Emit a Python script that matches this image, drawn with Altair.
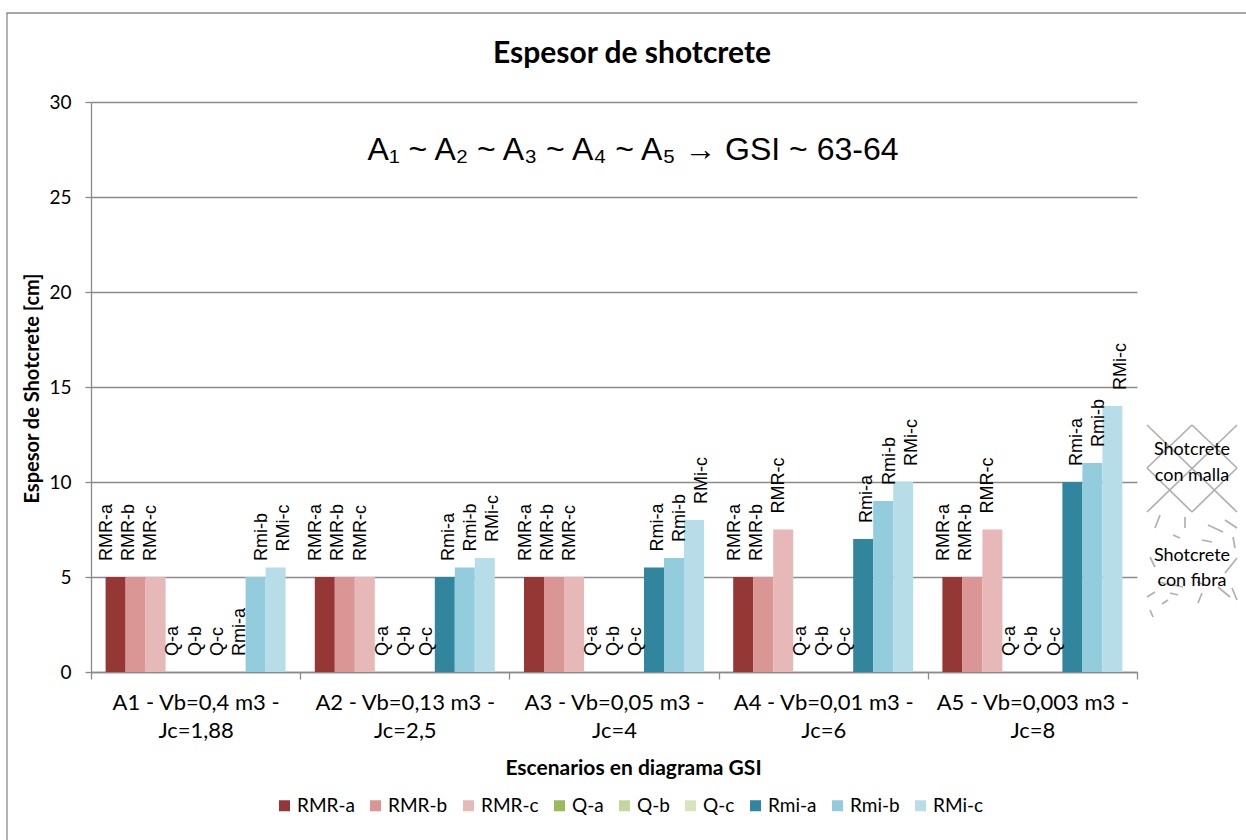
import altair as alt
import pandas as pd

# Scenario categories (x axis) and series (bars inside each scenario)
groups = [
    "A1 - Vb=0,4 m3 - Jc=1,88",
    "A2 - Vb=0,13 m3 - Jc=2,5",
    "A3 - Vb=0,05 m3 - Jc=4",
    "A4 - Vb=0,01 m3 - Jc=6",
    "A5 - Vb=0,003 m3 - Jc=8",
]
series = ["RMR-a", "RMR-b", "RMR-c", "Q-a", "Q-b", "Q-c", "Rmi-a", "Rmi-b", "RMi-c"]

# Shotcrete thickness [cm] per series, one value per scenario
rmr_a = [5, 5, 5, 5, 5]
rmr_b = [5, 5, 5, 5, 5]
rmr_c = [5, 5, 5, 7.5, 7.5]
q_a = [0, 0, 0, 0, 0]
q_b = [0, 0, 0, 0, 0]
q_c = [0, 0, 0, 0, 0]
rmi_a = [0, 5, 5.5, 7, 10]
rmi_b = [5, 5.5, 6, 9, 11]
rmi_c = [5.5, 6, 8, 10, 14]

y_ticks = [0, 5, 10, 15, 20, 25, 30]

colors = ["#953735", "#D99694", "#E6B9B8", "#9BBB59", "#C3D69B", "#D7E4BD",
          "#31859C", "#93CDDD", "#B7DEE8"]

rows = []
for s, vals in zip(series, [rmr_a, rmr_b, rmr_c, q_a, q_b, q_c, rmi_a, rmi_b, rmi_c]):
    for g, v in zip(groups, vals):
        rows.append({"Escenario": g, "Serie": s, "Espesor": v})
df = pd.DataFrame(rows)

# Canvas layout (pixels)
PAD_L, PAD_T, PAD_R, PAD_B = 91, 102, 109, 168
W, H = 1046, 570
GRAY = "#8a8a8a"
CAL = "Lato"

x_enc = alt.X(
    "Escenario:N", sort=groups,
    scale=alt.Scale(paddingInner=0, paddingOuter=0),
    axis=alt.Axis(
        title="Escenarios en diagrama GSI", labelAngle=0, labelLimit=0,
        labelExpr="[slice(datum.label, 0, indexof(datum.label, ' Jc')), "
                  "slice(datum.label, indexof(datum.label, 'Jc'))]",
        labelFont=CAL, labelFontSize=22, labelColor="black", labelLineHeight=28,
        labelPadding=13, labelBaseline="top",
        tickBand="extent", tickSize=7, tickColor=GRAY, tickWidth=1.3,
        domainColor=GRAY, domainWidth=1.3,
        titleFont=CAL, titleFontSize=21, titleFontWeight="bold", titleColor="black",
        titleX=633 - PAD_L, titleY=768 - (PAD_T + H), titleBaseline="middle",
    ),
)
xoff_enc = alt.XOffset("Serie:N", sort=series,
                       scale=alt.Scale(paddingInner=0, paddingOuter=0.73))
y_enc = alt.Y(
    "Espesor:Q",
    scale=alt.Scale(domain=[0, 30], nice=False),
    axis=alt.Axis(
        title="Espesor de Shotcrete [cm]", values=y_ticks, format="d",
        labelFont=CAL, labelFontSize=19, labelColor="black", labelPadding=14,
        tickSize=6, tickColor=GRAY, tickWidth=1.3,
        grid=True, gridColor=GRAY, gridWidth=1.3,
        domainColor=GRAY, domainWidth=1.3,
        titleFont=CAL, titleFontSize=20, titleFontWeight="bold", titleColor="black",
        titleX=32 - PAD_L, titleY=388 - PAD_T, titleAngle=270,
        titleBaseline="middle", titleAlign="center",
    ),
)
color_enc = alt.Color(
    "Serie:N", sort=series,
    scale=alt.Scale(domain=series, range=colors),
    legend=alt.Legend(
        title=None, orient="none", direction="horizontal", columns=9,
        legendX=275 - PAD_L, legendY=796 - PAD_T, padding=0,
        symbolType="square", symbolSize=121, symbolStrokeWidth=0,
        labelFont=CAL, labelFontSize=19, labelColor="black",
        labelOffset=3, columnPadding=11,
    ),
)

bars = alt.Chart(df).mark_bar().encode(
    x=x_enc, xOffset=xoff_enc, y=y_enc, color=color_enc
)

labels = alt.Chart(df).mark_text(
    angle=270, align="left", baseline="middle", dx=16,
    font="Liberation Sans", fontSize=18, color="black",
).encode(
    x=alt.X("Escenario:N", sort=groups, axis=None,
            scale=alt.Scale(paddingInner=0, paddingOuter=0)),
    xOffset=alt.XOffset("Serie:N", sort=series,
                        scale=alt.Scale(paddingInner=0, paddingOuter=0.73)),
    y=alt.Y("Espesor:Q", axis=None, scale=alt.Scale(domain=[0, 30], nice=False)),
    text="Serie:N",
)

# Chart title and the GSI note above the bars
texts = pd.DataFrame({
    "t": ["Espesor de shotcrete", "A\u2081 ~ A\u2082 ~ A\u2083 ~ A\u2084 ~ A\u2085  \u2192 GSI ~ 63-64"],
})
title = alt.Chart(texts).transform_filter("datum.t == 'Espesor de shotcrete'").mark_text(
    font=CAL, fontSize=30, fontWeight="bold", color="black", align="center",
    baseline="alphabetic",
).encode(x=alt.value(632 - PAD_L), y=alt.value(63 - PAD_T), text="t:N")
note = alt.Chart(texts).transform_filter("datum.t != 'Espesor de shotcrete'").mark_text(
    font="Liberation Sans", fontSize=32, color="black", align="center",
    baseline="alphabetic",
).encode(x=alt.value(633 - PAD_L), y=alt.value(160 - PAD_T), text="t:N")

# Side key: mesh-reinforced and fibre-reinforced shotcrete
side = pd.DataFrame({
    "t": ["Shotcrete", "con malla", "Shotcrete", "con fibra"],
    "px": [1192, 1192, 1192, 1192],
    "py": [455, 481, 561, 586],
})
side["px"] = side["px"] - PAD_L
side["py"] = side["py"] - PAD_T
side_text = alt.Chart(side).mark_text(
    font=CAL, fontSize=18, color="black", align="center", baseline="alphabetic",
).encode(
    x=alt.X("px:Q", scale=None, axis=None),
    y=alt.Y("py:Q", scale=None, axis=None),
    text="t:N",
)

# Mesh lattice strokes and fibre strokes drawn in pixel space
seg = [
    (1147, 425, 1237, 512), (1192, 425, 1237, 468), (1147, 468, 1192, 512),
    (1237, 425, 1147, 512), (1192, 425, 1147, 468), (1237, 468, 1192, 512),
]
fib = [
    (1160, 515, 1155, 528), (1185, 517, 1185, 528), (1208, 525, 1223, 532),
    (1225, 520, 1237, 528), (1173, 535, 1180, 538), (1202, 540, 1212, 542),
    (1233, 537, 1235, 548), (1150, 557, 1155, 567), (1237, 558, 1225, 573),
    (1158, 582, 1183, 587), (1197, 582, 1205, 585), (1218, 587, 1230, 597),
    (1232, 588, 1237, 600), (1147, 597, 1155, 592), (1170, 593, 1178, 595),
    (1202, 593, 1198, 603), (1150, 610, 1153, 617), (1162, 604, 1168, 600),
]
deco = pd.DataFrame(
    [{"x1": a - PAD_L, "y1": b - PAD_T, "x2": c - PAD_L, "y2": d - PAD_T, "k": "malla"}
     for a, b, c, d in seg]
    + [{"x1": a - PAD_L, "y1": b - PAD_T, "x2": c - PAD_L, "y2": d - PAD_T, "k": "fibra"}
       for a, b, c, d in fib]
)
deco_rules = alt.Chart(deco).mark_rule(color="#b0b0b0", strokeWidth=1.7, clip=False).encode(
    x=alt.X("x1:Q", scale=None, axis=None),
    y=alt.Y("y1:Q", scale=None, axis=None),
    x2="x2:Q",
    y2="y2:Q",
)

# Outer chart frame
frame = alt.Chart(pd.DataFrame({"k": [0]})).mark_rect(
    fill=None, stroke=GRAY, strokeWidth=1.3, clip=False
).encode(
    x=alt.value(7 - PAD_L), y=alt.value(13 - PAD_T),
    x2=alt.value(1300 - PAD_L), y2=alt.value(900 - PAD_T),
)

chart = alt.layer(
    frame, bars, labels, title, note, deco_rules, side_text
).resolve_scale(
    x="independent", y="independent", xOffset="independent"
).properties(
    width=W, height=H,
    padding={"left": PAD_L, "top": PAD_T, "right": PAD_R, "bottom": PAD_B},
    autosize=alt.AutoSizeParams(type="none"),
    background="white",
).configure_view(stroke=None)

chart.save("out.html", embed_options={"renderer": "svg", "actions": False})
